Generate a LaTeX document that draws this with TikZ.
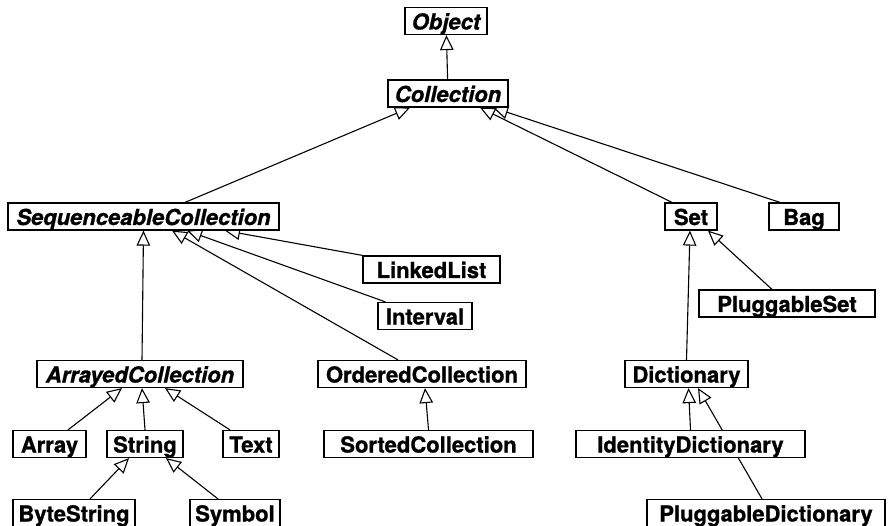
\documentclass[tikz,border=0pt]{standalone}
\usepackage{fontspec}
\setmainfont{TeX Gyre Heros}[BoldFeatures={FakeBold=1}, BoldItalicFeatures={FakeBold=1}]
\usepackage{tikz}
\usetikzlibrary{arrows.meta,backgrounds}

\tikzset{
  cls/.style={draw, fill=white, line width=1.2pt, inner sep=0pt,
    font=\fontsize{22}{24}\selectfont\bfseries,
    minimum height=27pt, text height=21pt, text depth=4pt, minimum width=#1},
  abscls/.style={cls=#1, font=\fontsize{22}{24}\selectfont\bfseries\itshape},
  inh/.style={line width=1.1pt, -{Triangle[open, length=15pt, width=13.5pt]}}
}

\begin{document}
\begin{tikzpicture}[x=1pt, y=-1pt]
  \useasboundingbox (0,0) rectangle (893,526);

  % top of the hierarchy
  \node[abscls=82]  (object)     at (446,21)    {Object};
  \node[abscls=120] (collection) at (448,93.5)  {Collection};

  % second level
  \node[abscls=271] (seqcoll)  at (143.5,216.5) {SequenceableCollection};
  \node[cls=52]     (set)      at (691,216.5)   {Set};
  \node[cls=70]     (bag)      at (804,216.5)   {Bag};
  \node[cls=137]    (linked)   at (431.5,269.5) {LinkedList};
  \node[cls=94]     (interval) at (425,316)     {Interval};
  \node[cls=176]    (plugset)  at (787,303.5)   {PluggableSet};

  % third level
  \node[abscls=206] (arrayed)  at (140,374)     {ArrayedCollection};
  \node[cls=208]    (ordered)  at (422,374)     {OrderedCollection};
  \node[cls=123]    (dict)     at (686.5,374)   {Dictionary};

  % fourth level
  \node[cls=73]     (array)    at (49.5,444)    {Array};
  \node[cls=76]     (string)   at (145,444)     {String};
  \node[cls=56]     (text)     at (251,444)     {Text};
  \node[cls=209]    (sorted)   at (428.5,444)   {SortedCollection};
  \node[cls=229]    (identity) at (690.5,444)   {IdentityDictionary};

  % bottom row, at the page edge
  \node[cls=122]    (bytestr)  at (74,513)      {ByteString};
  \node[cls=90]     (symbol)   at (235,513)     {Symbol};
  \node[cls=238]    (plugdict) at (766,513)     {PluggableDictionary};

  % inheritance links, kept behind the boxes
  \begin{scope}[on background layer]
    \draw[inh] (collection) -- (object);
    \draw[inh] ([xshift=41.5pt]seqcoll.north) -- ([xshift=-38pt]collection.south);
    \draw[inh] ([xshift=-19pt]set.north) -- ([xshift=32pt]collection.south);
    \draw[inh] ([xshift=-24pt]bag.north) -- ([xshift=45pt]collection.south);

    \draw[inh] (linked.north west) -- ([xshift=81.5pt]seqcoll.south);
    \draw[inh] ([xshift=8pt]interval.north west) -- ([xshift=43.5pt]seqcoll.south);
    \draw[inh] ([xshift=-24pt]ordered.north) -- ([xshift=28.5pt]seqcoll.south);
    \draw[inh] ([xshift=2pt]arrayed.north) -- (seqcoll.south);

    \draw[inh] ([xshift=18.5pt]array.north) -- ([xshift=-18pt]arrayed.south);
    \draw[inh] (string.north) -- ([xshift=2pt]arrayed.south);
    \draw[inh] ([xshift=-21pt]text.north) -- ([xshift=25pt]arrayed.south);
    \draw[inh] ([xshift=16pt]bytestr.north) -- ([xshift=-16pt]string.south);
    \draw[inh] ([xshift=-17pt]symbol.north) -- ([xshift=21pt]string.south);

    \draw[inh] (sorted.north) -- ([xshift=3pt]ordered.south);

    \draw[inh] (dict.north) -- ([xshift=-1pt]set.south);
    \draw[inh] ([xshift=-15pt]plugset.north) -- ([xshift=17pt]set.south);
    \draw[inh] (identity.north) -- ([xshift=2pt]dict.south);
    \draw[inh] ([xshift=-4pt]plugdict.north) -- ([xshift=11.5pt]dict.south);
  \end{scope}
\end{tikzpicture}
\end{document}
